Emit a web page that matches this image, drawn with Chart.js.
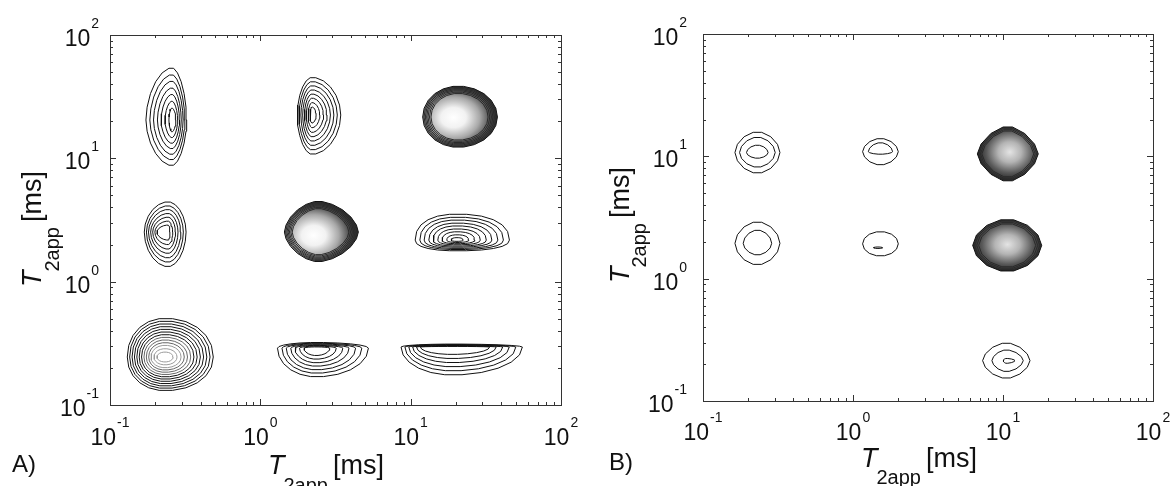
<!DOCTYPE html>
<html>
<head>
<meta charset="utf-8">
<script src="https://cdn.jsdelivr.net/npm/chart.js@4.4.0/dist/chart.umd.min.js"></script>
<style>
  html, body { margin: 0; padding: 0; background: #fff; }
  #wrap { position: relative; width: 1176px; height: 486px; overflow: hidden; }
  .panel { position: absolute; top: 0; width: 588px; height: 486px; }
</style>
</head>
<body>
<div id="wrap">
  <div class="panel" style="left:0"><canvas id="chartA"></canvas></div>
  <div class="panel" style="left:588px"><canvas id="chartB"></canvas></div>
</div>
<script>
// axis range (ms) and tick labels
const axisMin = 0.1;
const axisMax = 100;
const majorTicks = [0.1, 1, 10, 100];
const tickExponents = ['-1', '0', '1', '2'];

// panel A peaks: log10 centre [T2 x, T2 y], extents in decades [left, right, up, down]
const centresA = [
  [-0.588, 1.311], [-0.614, 0.402], [-0.634, -0.611],
  [0.344, 1.351], [0.384, 0.402], [0.371, -0.539],
  [1.315, 1.335], [1.309, 0.337], [1.275, -0.530]
];
const outerA = [
  [0.173, 0.098, 0.424, 0.371], [0.158, 0.120, 0.246, 0.281], [0.251, 0.321, 0.314, 0.273],
  [0.098, 0.191, 0.306, 0.319], [0.224, 0.268, 0.251, 0.241], [0.257, 0.348, 0.046, 0.233],
  [0.235, 0.262, 0.251, 0.246], [0.279, 0.348, 0.211, 0.087], [0.339, 0.468, 0.024, 0.227]
];
const innerA = [
  [0.020, 0.026, 0.097, 0.097], [0.073, 0.013, 0.057, 0.065], [0.053, 0.053, 0.040, 0.040],
  [0.013, 0.027, 0.065, 0.065], [0.172, 0.205, 0.192, 0.185], [0.080, 0.090, 0.010, 0.060],
  [0.180, 0.200, 0.192, 0.188], [0.040, 0.040, 0.020, 0.010], [0.210, 0.250, 0.005, 0.060]
];
const levelsA = [
  [1, 0.83, 0.67, 0.5, 0.34, 0.17, 0],
  [1, 0.83, 0.67, 0.5, 0.34, 0.17, 0],
  [1, 0.92, 0.84, 0.76, 0.68, 0.6, 0.52, 0.44, 0.36, 0.28, 0.2, 0.1, 0],
  [1, 0.86, 0.72, 0.58, 0.44, 0.3, 0.15, 0],
  [1, 0.84, 0.68, 0.52, 0.36, 0.18, 0],
  [1, 0.83, 0.67, 0.5, 0.34, 0.17, 0],
  [1, 0.84, 0.68, 0.52, 0.36, 0.18, 0],
  [1, 0.87, 0.75, 0.62, 0.5, 0.37, 0.25, 0.12, 0],
  [1, 0.8, 0.6, 0.4, 0.2, 0]
];
const powerA = [1.8, 1.9, 2.1, 1.9, 1.7, 2.0, 2.0, 2.3, 2.0];
const fadeA = [false, false, true, false, false, false, false, false, false];

// panel B peaks
const centresB = [
  [-0.637, 1.031], [-0.637, 0.289], [0.183, 1.038], [0.183, 0.285], [0.167, 0.253],
  [1.032, 1.020], [1.028, 0.272], [1.022, -0.670]
];
const outerB = [
  [0.150, 0.150, 0.170, 0.170], [0.150, 0.150, 0.177, 0.177], [0.119, 0.119, 0.109, 0.109],
  [0.119, 0.119, 0.100, 0.100], [0.030, 0.030, 0.006, 0.006],
  [0.203, 0.203, 0.227, 0.227], [0.230, 0.230, 0.215, 0.215], [0.158, 0.158, 0.146, 0.146]
];
const innerB = [
  [0.073, 0.071, 0.061, 0.047], [0.095, 0.095, 0.109, 0.096], [0.081, 0.081, 0.074, 0.021],
  [0.119, 0.119, 0.100, 0.100], [0.030, 0.030, 0.006, 0.006],
  [0.173, 0.173, 0.193, 0.193], [0.190, 0.190, 0.180, 0.180], [0.020, 0.058, 0.018, 0.022]
];
const levelsB = [
  [1, 0.6, 0], [1, 0], [1, 0], [1], [1],
  [1, 0.67, 0.33, 0], [1, 0.67, 0.33, 0], [1, 0.55, 0]
];
const powerB = [1.8, 1.8, 1.8, 2.0, 2.0, 1.6, 1.8, 1.7];
const fadeB = [false, false, false, false, false, false, false, false];

// shaded cores: which peak, log10 centre of the bright spot, gradient radii [x, y] in decades
const shadePeaksA = [4, 6];
const shadeCentresA = [[0.355, 0.375], [1.285, 1.330]];
const shadeRadiiA = [[0.27, 0.27], [0.28, 0.27]];
const shadePeaksB = [5, 6];
const shadeCentresB = [[1.045, 1.035], [1.030, 0.280]];
const shadeRadiiB = [[0.22, 0.24], [0.24, 0.23]];

const FONT = '"Liberation Sans", Arial, Helvetica, sans-serif';

function ring(c, ext, p, n) {
  const pts = [];
  for (let i = 0; i <= n; i++) {
    const a = 2 * Math.PI * i / n;
    const cs = Math.cos(a), sn = Math.sin(a);
    const ex = cs >= 0 ? ext[1] : ext[0];
    const ey = sn >= 0 ? ext[2] : ext[3];
    const fx = Math.sign(cs) * Math.pow(Math.abs(cs), 2 / p);
    const fy = Math.sign(sn) * Math.pow(Math.abs(sn), 2 / p);
    pts.push({ x: Math.pow(10, c[0] + ex * fx), y: Math.pow(10, c[1] + ey * fy) });
  }
  return pts;
}

function buildDatasets(centres, outer, inner, levels, power, fade, n, shaded) {
  const sets = [];
  centres.forEach((c, i) => {
    levels[i].forEach(t => {
      const ext = outer[i].map((o, j) => inner[i][j] + t * (o - inner[i][j]));
      let col = '#111';
      if (fade[i] && t < 0.5) col = t < 0.25 ? '#9a9a9a' : '#666';
      if (shaded.includes(i) && t < 0.9) col = '#2a2a2a';
      sets.push({
        data: ring(c, ext, power[i], n),
        showLine: true, borderColor: col, borderWidth: 1,
        pointRadius: 0, tension: 0, fill: false
      });
    });
  });
  return sets;
}

// gradient cores, clipped to the outer contour, drawn under the lines
const shadePlugin = {
  id: 'shade',
  beforeDatasetsDraw(chart, args, o) {
    const { ctx, scales: { x, y } } = chart;
    o.peaks.forEach((k, i) => {
      const outline = ring(o.centres[k], o.outer[k], o.power[k], o.n);
      const c = o.spot[i];
      const px = x.getPixelForValue(Math.pow(10, c[0]));
      const py = y.getPixelForValue(Math.pow(10, c[1]));
      const rx = x.getPixelForValue(Math.pow(10, c[0] + o.radii[i][0])) - px;
      const ry = py - y.getPixelForValue(Math.pow(10, c[1] + o.radii[i][1]));
      ctx.save();
      ctx.beginPath();
      outline.forEach((p, j) => {
        const X = x.getPixelForValue(p.x), Y = y.getPixelForValue(p.y);
        if (j === 0) ctx.moveTo(X, Y); else ctx.lineTo(X, Y);
      });
      ctx.closePath();
      ctx.clip();
      ctx.translate(px, py);
      ctx.scale(rx, ry);
      const g = ctx.createRadialGradient(0, 0, 0, 0, 0, 1);
      o.stops.forEach(s => g.addColorStop(s[0], s[1]));
      ctx.fillStyle = g;
      ctx.fillRect(-2, -2, 4, 4);
      ctx.restore();
    });
  }
};

// box, inward ticks on all sides, 10^n labels, axis titles
const decorPlugin = {
  id: 'decor',
  afterDraw(chart, args, o) {
    const { ctx, chartArea: a, scales: { x, y } } = chart;
    ctx.save();
    ctx.strokeStyle = '#333';
    ctx.lineWidth = 1;
    ctx.strokeRect(Math.round(a.left) + 0.5, Math.round(a.top) + 0.5,
      Math.round(a.right - a.left), Math.round(a.bottom - a.top));

    ctx.beginPath();
    for (let d = -1; d <= 2; d++) {
      for (let m = 1; m <= 9; m++) {
        const v = m * Math.pow(10, d);
        if (v > axisMax * 1.001) break;
        const len = m === 1 ? 6 : 3;
        const tx = Math.round(x.getPixelForValue(v)) + 0.5;
        const ty = Math.round(y.getPixelForValue(v)) + 0.5;
        ctx.moveTo(tx, a.bottom); ctx.lineTo(tx, a.bottom - len);
        ctx.moveTo(tx, a.top); ctx.lineTo(tx, a.top + len);
        ctx.moveTo(a.left, ty); ctx.lineTo(a.left + len, ty);
        ctx.moveTo(a.right, ty); ctx.lineTo(a.right - len, ty);
      }
    }
    ctx.stroke();

    ctx.fillStyle = '#111';
    const base = '23px ' + FONT, sup = '14px ' + FONT;
    majorTicks.forEach((v, i) => {
      const e = tickExponents[i];
      ctx.font = base; const w1 = ctx.measureText('10').width;
      ctx.font = sup; const w2 = ctx.measureText(e).width;
      // x labels
      const px = x.getPixelForValue(v);
      const sx = px - (w1 + 1 + w2) / 2;
      ctx.textAlign = 'left';
      ctx.font = base; ctx.fillText('10', sx, a.bottom + o.xLab);
      ctx.font = sup; ctx.fillText(e, sx + w1 + 1, a.bottom + o.xLab - 18);
      // y labels
      const py = y.getPixelForValue(v);
      const r = a.left - o.yGap;
      ctx.textAlign = 'right';
      ctx.font = sup; ctx.fillText(e, r, py - 7);
      ctx.font = base; ctx.fillText('10', r - w2 - 1, py + 11);
    });

    const drawTitle = () => {
      ctx.textAlign = 'left';
      ctx.font = 'italic 27px ' + FONT;
      ctx.fillText('T', 0, 0);
      const wt = ctx.measureText('T').width;
      ctx.font = '20px ' + FONT;
      ctx.fillText('2app', wt - 1, o.subDrop);
      const ws = ctx.measureText('2app').width;
      ctx.font = '27px ' + FONT;
      ctx.fillText('[ms]', wt - 1 + ws + 5, 0);
    };
    ctx.save();
    ctx.translate(a.left + 158, o.xTitle);
    drawTitle();
    ctx.restore();
    ctx.save();
    ctx.translate(o.yTitle, a.bottom - 118);
    ctx.rotate(-Math.PI / 2);
    drawTitle();
    ctx.restore();

    ctx.textAlign = 'left';
    ctx.font = '24px ' + FONT;
    ctx.fillText(o.letter, o.letterX, o.letterY);
    ctx.restore();
  }
};

function makeChart(id, datasets, lay, shade, decor) {
  return new Chart(document.getElementById(id), {
    type: 'scatter',
    data: { datasets },
    options: {
      responsive: true, maintainAspectRatio: false, animation: false, events: [],
      layout: { padding: { left: 0, top: lay.top, right: lay.right, bottom: 0 } },
      scales: {
        x: {
          type: 'logarithmic', min: axisMin, max: axisMax,
          grid: { display: false }, border: { display: false }, ticks: { display: false },
          afterFit: s => { s.height = lay.xh; }
        },
        y: {
          type: 'logarithmic', min: axisMin, max: axisMax,
          grid: { display: false }, border: { display: false }, ticks: { display: false },
          afterFit: s => { s.width = lay.yw; }
        }
      },
      plugins: { legend: { display: false }, tooltip: { enabled: false }, shade, decor }
    },
    plugins: [shadePlugin, decorPlugin]
  });
}

makeChart('chartA',
  buildDatasets(centresA, outerA, innerA, levelsA, powerA, fadeA, 22, shadePeaksA),
  { top: 35, right: 27, xh: 81, yw: 110 },
  { peaks: shadePeaksA, centres: centresA, outer: outerA, power: powerA, n: 22,
    spot: shadeCentresA, radii: shadeRadiiA,
    stops: [[0, '#ffffff'], [0.3, '#f2f2f2'], [0.62, '#a8a8a8'], [0.85, '#555555'], [1, '#333333']] },
  { xLab: 40, yGap: 11, xTitle: 474, yTitle: 41, subDrop: 18, letter: 'A)', letterX: 12, letterY: 472 });

makeChart('chartB',
  buildDatasets(centresB, outerB, innerB, levelsB, powerB, fadeB, 14, shadePeaksB),
  { top: 34, right: 23, xh: 85, yw: 115 },
  { peaks: shadePeaksB, centres: centresB, outer: outerB, power: powerB, n: 14,
    spot: shadeCentresB, radii: shadeRadiiB,
    stops: [[0, '#e4e4e4'], [0.35, '#b4b4b4'], [0.7, '#5a5a5a'], [1, '#1e1e1e']] },
  { xLab: 39, yGap: 16, xTitle: 467, yTitle: 41, subDrop: 17, letter: 'B)', letterX: 21, letterY: 470 });
</script>
</body>
</html>
